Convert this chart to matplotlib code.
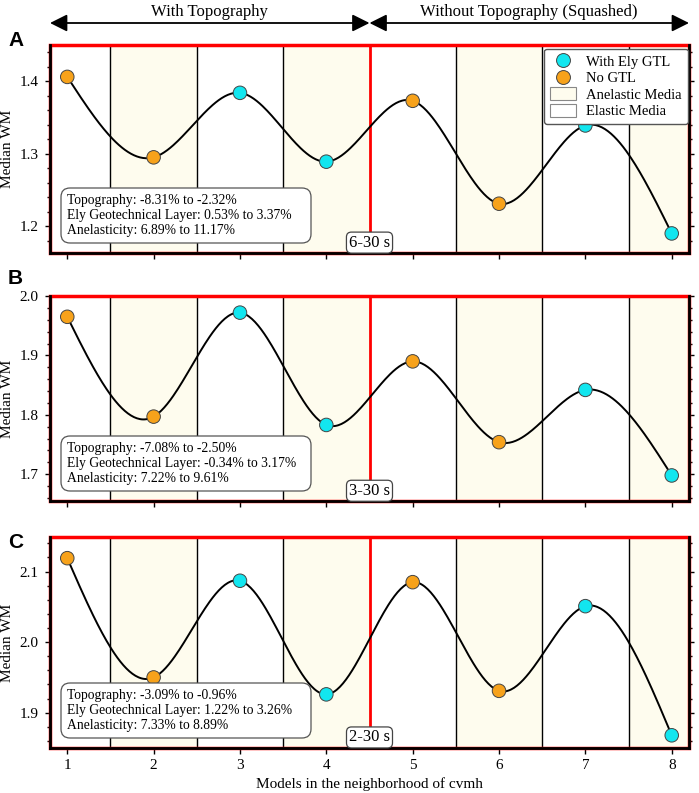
import matplotlib
matplotlib.use("Agg")
import matplotlib.pyplot as plt
import numpy as np
from matplotlib.lines import Line2D
from matplotlib.patches import Patch, Rectangle, FancyBboxPatch
from matplotlib.transforms import IdentityTransform

plt.rcParams['font.family'] = ['Liberation Serif', 'DejaVu Serif']

models = [1, 2, 3, 4, 5, 6, 7, 8]
# True = with Ely GTL (cyan), False = no GTL (orange)
has_gtl = [False, False, True, True, False, False, True, True]

wm_6_30 = [1.406, 1.295, 1.384, 1.289, 1.373, 1.231, 1.339, 1.190]
wm_3_30 = [1.965, 1.797, 1.972, 1.783, 1.890, 1.754, 1.842, 1.698]
wm_2_30 = [2.119, 1.950, 2.087, 1.926, 2.085, 1.931, 2.051, 1.868]

periods = ['6-30 s', '3-30 s', '2-30 s']
panel_letters = ['A', 'B', 'C']
stats = [
    ['Topography: -8.31% to -2.32%',
     'Ely Geotechnical Layer: 0.53% to 3.37%',
     'Anelasticity: 6.89% to 11.17%'],
    ['Topography: -7.08% to -2.50%',
     'Ely Geotechnical Layer: -0.34% to 3.17%',
     'Anelasticity: 7.22% to 9.61%'],
    ['Topography: -3.09% to -0.96%',
     'Ely Geotechnical Layer: 1.22% to 3.26%',
     'Anelasticity: 7.33% to 8.89%'],
]
ylims = [(1.163, 1.450), (1.655, 2.0), (1.850, 2.149)]

anelastic_spans = [(1.5, 2.5), (3.5, 4.5), (5.5, 6.5), (7.5, 8.5)]
borders = [1.5, 2.5, 3.5, 5.5, 6.5, 7.5]
topo_split = 4.5

CYAN = '#12e6ef'
ORANGE = '#f7a21b'
SHADE = '#fefcee'


def natural_spline(x, y, xs):
    # plain natural cubic spline, solved for the second derivatives
    x = np.asarray(x, float)
    y = np.asarray(y, float)
    n = len(x)
    h = np.diff(x)
    A = np.zeros((n, n))
    b = np.zeros(n)
    A[0, 0] = 1
    A[-1, -1] = 1
    for i in range(1, n - 1):
        A[i, i - 1] = h[i - 1]
        A[i, i] = 2 * (h[i - 1] + h[i])
        A[i, i + 1] = h[i]
        b[i] = 6 * ((y[i + 1] - y[i]) / h[i] - (y[i] - y[i - 1]) / h[i - 1])
    M = np.linalg.solve(A, b)
    idx = np.clip(np.searchsorted(x, xs) - 1, 0, n - 2)
    x0, x1 = x[idx], x[idx + 1]
    hh = x1 - x0
    t0 = x1 - xs
    t1 = xs - x0
    return (M[idx] * t0 ** 3 / (6 * hh) + M[idx + 1] * t1 ** 3 / (6 * hh)
            + (y[idx] / hh - M[idx] * hh / 6) * t0
            + (y[idx + 1] / hh - M[idx + 1] * hh / 6) * t1)


W, H = 699, 793
fig = plt.figure(figsize=(W / 100, H / 100), dpi=100)

left = 50 / W
width = (689 - 50) / W
boxes = [(45, 253), (296, 501), (537, 748)]
letter_y = [40, 279, 543]

xs = np.linspace(models[0], models[-1], 400)

for k, wm in enumerate([wm_6_30, wm_3_30, wm_2_30]):
    top, bot = boxes[k]
    ax = fig.add_axes([left, 1 - bot / H, width, (bot - top) / H])
    ax.set_xlim(0.8, 8.2)
    ax.set_ylim(*ylims[k])

    for a, b in anelastic_spans:
        ax.axvspan(a, b, color=SHADE, lw=0, zorder=0)
    for xb in borders:
        ax.axvline(xb, color='black', lw=1, zorder=1)
    ax.axvline(topo_split, color='red', lw=2, zorder=1)

    ax.plot(xs, natural_spline(models, wm, xs), color='black', lw=1.4, zorder=3)
    cols = [CYAN if g else ORANGE for g in has_gtl]
    ax.scatter(models, wm, s=95, c=cols, edgecolors='#444444', linewidths=0.7, zorder=4)

    # frame: red box with heavy black left/bottom/right
    ax.add_patch(Rectangle((0, 0), 1, 1, transform=ax.transAxes, fill=False,
                           ec='red', lw=2.5, zorder=5, clip_on=False))
    for s in ['left', 'bottom', 'right']:
        ax.spines[s].set_color('black')
        ax.spines[s].set_linewidth(2)
        ax.spines[s].set_zorder(6)
    ax.spines['top'].set_visible(False)

    ax.set_xticks(models)
    ax.set_yticks(np.arange(np.ceil(ylims[k][0] * 10) / 10, ylims[k][1], 0.1))
    ax.set_yticks(np.arange(np.ceil(ylims[k][0] * 50) / 50, ylims[k][1], 0.02), minor=True)
    ax.yaxis.set_major_formatter(matplotlib.ticker.FormatStrFormatter('%.1f'))
    ax.tick_params(axis='y', which='both', left=True, right=True, direction='out',
                   labelsize=11, width=1, pad=5)
    ax.tick_params(axis='y', which='major', length=3.5)
    ax.tick_params(axis='y', which='minor', length=2.5)
    ax.tick_params(axis='x', direction='out', length=4, width=1, labelsize=11, top=False, pad=4)
    if k < 2:
        ax.tick_params(axis='x', labelbottom=False)
    else:
        ax.set_xlabel('Models in the neighborhood of cvmh', fontsize=11, labelpad=4)
    ax.set_ylabel('Median WM', fontsize=11, labelpad=4)

    # stats box, fixed size in pixels like the original
    bx0, bx1 = 61, 311
    by_bot = H - (bot - 10)
    bh = 55
    fig.patches.append(FancyBboxPatch((bx0, by_bot), bx1 - bx0, bh,
                                      boxstyle='round,pad=0,rounding_size=9',
                                      transform=IdentityTransform(), fc='white',
                                      ec='#555555', lw=0.9, zorder=7))
    fig.text(67 / W, (by_bot + bh - 6) / H, '\n'.join(stats[k]), fontsize=9.8,
             va='top', ha='left', linespacing=1.22, zorder=8)

    ax.text(topo_split, 0.05, periods[k], transform=ax.get_xaxis_transform(), fontsize=12,
            ha='center', va='center', zorder=7,
            bbox=dict(boxstyle='round,pad=0.15,rounding_size=0.3', fc='white', ec='#444444', lw=0.9))

    fig.text(8 / W, 1 - letter_y[k] / H, panel_letters[k], fontsize=15, fontweight='bold',
             family='Liberation Sans', ha='left', va='center')

    if k == 0:
        handles = [
            Line2D([], [], ls='none', marker='o', ms=10, mfc=CYAN, mec='#444444', mew=0.7),
            Line2D([], [], ls='none', marker='o', ms=10, mfc=ORANGE, mec='#444444', mew=0.7),
            Patch(fc=SHADE, ec='#888888', lw=0.8),
            Patch(fc='white', ec='#888888', lw=0.8),
        ]
        leg = ax.legend(handles, ['With Ely GTL', 'No GTL', 'Anelastic Media', 'Elastic Media'],
                        loc='upper right', bbox_to_anchor=(1.0, 0.99), fontsize=10.5,
                        frameon=True, fancybox=True, framealpha=1, edgecolor='#555555',
                        handlelength=1.8, handleheight=1.0, handletextpad=0.7,
                        labelspacing=0.13, borderpad=0.4, borderaxespad=0.1)
        leg.set_zorder(8)

        # header arrows over the two model groups
        y_arrow = 1 + (45 - 23) / (bot - top)
        for xa, xb in [(0.8, topo_split), (topo_split, 8.2)]:
            ax.annotate('', xy=(xa, y_arrow), xytext=(xb, y_arrow),
                        xycoords=ax.get_xaxis_transform(),
                        arrowprops=dict(arrowstyle='<|-|>', color='black', lw=1.3,
                                        mutation_scale=26, shrinkA=0, shrinkB=0),
                        annotation_clip=False)
        y_txt = 1 + (45 - 12) / (bot - top)
        ax.text((0.8 + topo_split) / 2, y_txt, 'With Topography', transform=ax.get_xaxis_transform(),
                ha='center', va='center', fontsize=12)
        ax.text((topo_split + 8.2) / 2, y_txt, 'Without Topography (Squashed)',
                transform=ax.get_xaxis_transform(), ha='center', va='center', fontsize=12)

fig.savefig('out.png', dpi=100)
